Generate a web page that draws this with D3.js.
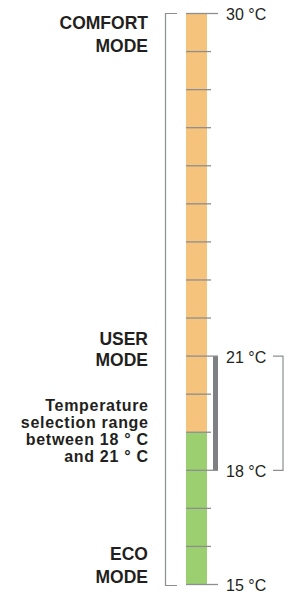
<!DOCTYPE html>
<html><head><meta charset="utf-8">
<script src="https://cdn.jsdelivr.net/npm/d3@7"></script>
<style>html,body{margin:0;padding:0;background:#fff;}svg{display:block;}</style>
</head><body>
<script>
// ---- data ----
const tempMin = 15, tempMax = 30;
const degrees = d3.range(tempMin, tempMax + 1);            // one tick per degree
const zones = [
  {from: 15, to: 19, color: "#9bcf70"},
  {from: 19, to: 30, color: "#f6c37c"}
];
const selection = [18, 21];
const tempLabels = [30, 21, 18, 15];
const modeLabels = [
  {lines: ["COMFORT", "MODE"], top: 28.5, step: 23, size: 17.5, ls: 0},
  {lines: ["USER", "MODE"], top: 345, step: 21, size: 17.5, ls: 0},
  {lines: ["Temperature", "selection range", "between 18 ° C", "and 21 ° C"], top: 411, step: 17, size: 16, ls: 0.7},
  {lines: ["ECO", "MODE"], top: 559.5, step: 23.5, size: 17.5, ls: 0}
];

// ---- chart ----
const W = 291, H = 597;
const svg = d3.select("body").append("svg").attr("width", W).attr("height", H);
const y = d3.scaleLinear().domain([tempMin, tempMax]).range([584.5, 13.5]);
const barX = 186, barW = 21;
const grey = "#8c8e90", ink = "#231f20";

// zones
svg.selectAll("rect.zone").data(zones).join("rect")
  .attr("x", barX).attr("width", barW)
  .attr("y", d => y(d.to)).attr("height", d => y(d.from) - y(d.to))
  .attr("fill", d => d.color);

// selection bar
svg.append("rect").attr("x", 213).attr("width", 5)
  .attr("y", y(selection[1])).attr("height", y(selection[0]) - y(selection[1]))
  .attr("fill", "#7e8083");

// ticks
const longTicks = new Set([tempMin, tempMax, ...selection]);
svg.selectAll("line.tick").data(degrees).join("line")
  .attr("x1", barX).attr("x2", d => longTicks.has(d) ? 218 : 211)
  .attr("y1", d => y(d)).attr("y2", d => y(d))
  .attr("stroke", grey).attr("stroke-width", 1.3);

// left bracket
svg.append("path")
  .attr("d", `M177,${y(tempMax)}H165.5V${y(tempMin) + 1}H177`)
  .attr("fill", "none").attr("stroke", grey).attr("stroke-width", 1.2);

// right bracket
svg.append("path")
  .attr("d", `M273,${y(selection[1])}H283V${y(selection[0])}H273`)
  .attr("fill", "none").attr("stroke", grey).attr("stroke-width", 1.2);

// temperature labels
svg.selectAll("text.temp").data(tempLabels).join("text")
  .attr("x", 226).attr("y", d => y(d) + 6.5)
  .attr("font-family", "Liberation Sans, Arial, sans-serif")
  .attr("font-size", 16).attr("fill", ink)
  .text(d => d + " °C");

// mode labels
modeLabels.forEach(m => {
  const t = svg.append("text")
    .attr("text-anchor", "end")
    .attr("font-family", "Liberation Sans, Arial, sans-serif")
    .attr("letter-spacing", m.ls)
    .attr("font-weight", "bold").attr("font-size", m.size).attr("fill", ink);
  m.lines.forEach((l, i) => {
    t.append("tspan").attr("x", 148 + m.ls).attr("y", m.top + i * m.step).text(l);
  });
});
</script>
</body></html>
